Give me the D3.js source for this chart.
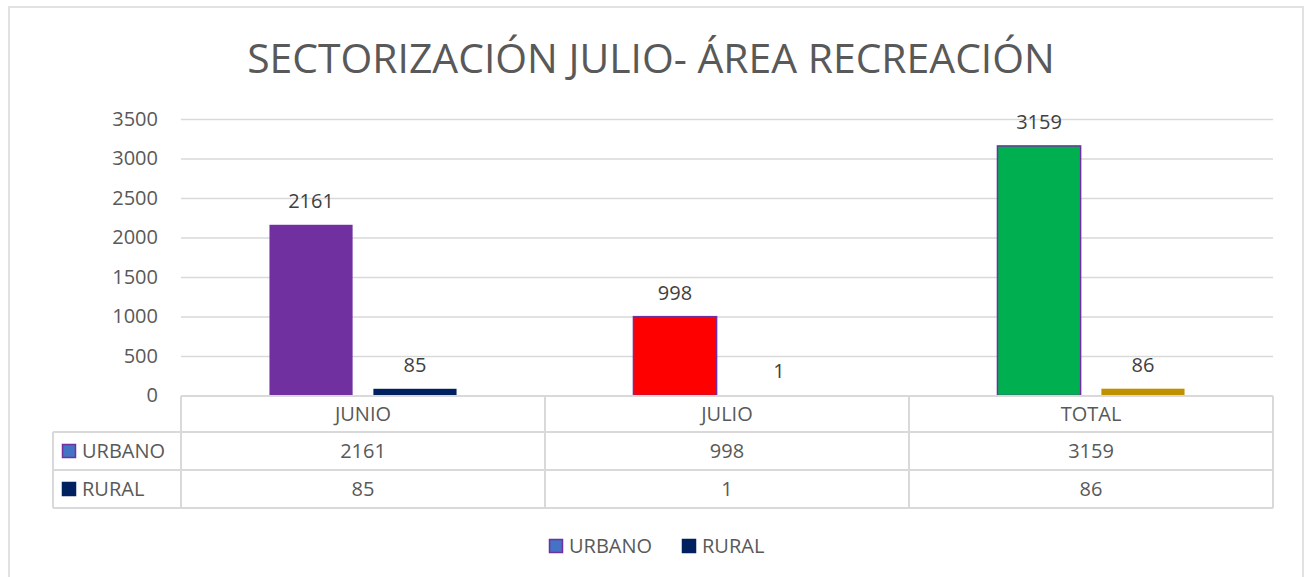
<!DOCTYPE html>
<html>
<head>
<meta charset="utf-8">
<script src="https://cdn.jsdelivr.net/npm/d3@7"></script>
<style>
  html, body { margin: 0; padding: 0; background: #ffffff; }
  svg { display: block; }
  text { font-family: "Open Sans", sans-serif; }
</style>
</head>
<body>
<svg id="chart" width="1310" height="577"></svg>
<script>
// ---- data ----
const title = "SECTORIZACIÓN JULIO- ÁREA RECREACIÓN";
const categories = ["JUNIO", "JULIO", "TOTAL"];
const seriesNames = ["URBANO", "RURAL"];
const urbano = [2161, 998, 3159];
const rural = [85, 1, 86];
const yTicks = [0, 500, 1000, 1500, 2000, 2500, 3000, 3500];

// ---- styles ----
const urbanoFill = ["#7030A0", "#FF0000", "#00B050"];
const urbanoStroke = ["#7030A0", "#7030A0", "#7030A0"];
const ruralFill = ["#002060", "#002060", "#BF9000"];
const legendFill = { URBANO: "#4472C4", RURAL: "#002060" };
const legendStroke = { URBANO: "#7030A0", RURAL: "#002060" };
const gridColor = "#d9d9d9";
const textColor = "#595959";
const labelColor = "#404040";
const fontFam = '"Open Sans", sans-serif';
const fs = 20;

const svg = d3.select("#chart");

// chart frame
svg.append("rect").attr("x", 9).attr("y", 7).attr("width", 1294).attr("height", 580)
  .attr("fill", "#fff").attr("stroke", gridColor).attr("stroke-width", 1.5);

// scales
const plotL = 181, plotR = 1273, plotT = 119, plotB = 395.5;
const x0 = d3.scaleBand().domain(categories).range([plotL, plotR]).padding(0);
const bw = x0.bandwidth();
const x1 = d3.scaleBand().domain(seriesNames).range([bw * 0.243, bw * 0.757]).paddingInner(0.2);
const y = d3.scaleLinear().domain([0, 3500]).range([plotB, plotT]);

// title
const t = svg.append("text").attr("x", 651).attr("y", 73).attr("text-anchor", "middle")
  .attr("fill", textColor).attr("font-size", 40).text(title);
const tw = t.node().getComputedTextLength();
t.attr("font-size", 40 * 808 / tw);

// gridlines + y axis
const yAxis = d3.axisLeft(y).tickValues(yTicks).tickFormat(d3.format("d"))
  .tickSize(-(plotR - plotL)).tickPadding(23);
const gy = svg.append("g").attr("transform", `translate(${plotL},0)`).call(yAxis);
gy.select(".domain").remove();
gy.selectAll(".tick line").attr("stroke", gridColor).attr("stroke-width", 1.5);
gy.selectAll(".tick text").attr("fill", textColor).attr("font-size", fs)
  .attr("font-family", fontFam);

// bars
const rows = categories.map((c, i) => ({ c, i, URBANO: urbano[i], RURAL: rural[i] }));
const g = svg.append("g");
rows.forEach(r => {
  seriesNames.forEach(s => {
    const v = r[s];
    const fill = s === "URBANO" ? urbanoFill[r.i] : ruralFill[r.i];
    const stroke = s === "URBANO" ? urbanoStroke[r.i] : "none";
    const bx = x0(r.c) + x1(s);
    g.append("rect")
      .attr("x", bx).attr("y", y(v))
      .attr("width", x1.bandwidth()).attr("height", y(0) - y(v))
      .attr("fill", fill).attr("stroke", stroke).attr("stroke-width", s === "URBANO" && r.i > 0 ? 1.5 : 0);
    g.append("text")
      .attr("x", bx + x1.bandwidth() / 2).attr("y", y(v) - 17)
      .attr("text-anchor", "middle").attr("fill", labelColor).attr("font-size", fs)
      .text(v);
  });
});

// data table
const tbl = svg.append("g");
const rowT = [396, 432, 470, 508];
const leftCol = 53;
const line = (x1_, y1_, x2_, y2_) => tbl.append("line").attr("x1", x1_).attr("y1", y1_)
  .attr("x2", x2_).attr("y2", y2_).attr("stroke", gridColor).attr("stroke-width", 2);
line(plotL, rowT[0], plotR, rowT[0]);
line(leftCol, rowT[1], plotR, rowT[1]);
line(leftCol, rowT[2], plotR, rowT[2]);
line(leftCol, rowT[3], plotR, rowT[3]);
line(leftCol, rowT[1], leftCol, rowT[3]);
line(plotL, rowT[0], plotL, rowT[3]);
categories.forEach(c => line(x0(c) + bw, rowT[0], x0(c) + bw, rowT[3]));

categories.forEach(c => {
  tbl.append("text").attr("x", x0(c) + bw / 2).attr("y", (rowT[0] + rowT[1]) / 2)
    .attr("dy", "0.35em").attr("text-anchor", "middle").attr("fill", textColor)
    .attr("font-size", fs).text(c);
});
const tableVals = { URBANO: urbano, RURAL: rural };
seriesNames.forEach((s, si) => {
  const cy = (rowT[si + 1] + rowT[si + 2]) / 2;
  tbl.append("rect").attr("x", 62.5).attr("y", cy - 6.5).attr("width", 13).attr("height", 13)
    .attr("fill", legendFill[s]).attr("stroke", legendStroke[s]).attr("stroke-width", 1.5);
  tbl.append("text").attr("x", 82).attr("y", cy).attr("dy", "0.35em")
    .attr("fill", textColor).attr("font-size", fs).text(s);
  categories.forEach((c, ci) => {
    tbl.append("text").attr("x", x0(c) + bw / 2).attr("y", cy).attr("dy", "0.35em")
      .attr("text-anchor", "middle").attr("fill", textColor).attr("font-size", fs)
      .text(tableVals[s][ci]);
  });
});

// legend
const leg = svg.append("g");
const legX = [549.5, 682.5];
seriesNames.forEach((s, i) => {
  leg.append("rect").attr("x", legX[i]).attr("y", 539.5).attr("width", 13).attr("height", 13)
    .attr("fill", legendFill[s]).attr("stroke", legendStroke[s]).attr("stroke-width", 1.5);
  leg.append("text").attr("x", legX[i] + 19.5).attr("y", 546).attr("dy", "0.35em")
    .attr("fill", textColor).attr("font-size", fs).text(s);
});
</script>
</body>
</html>
